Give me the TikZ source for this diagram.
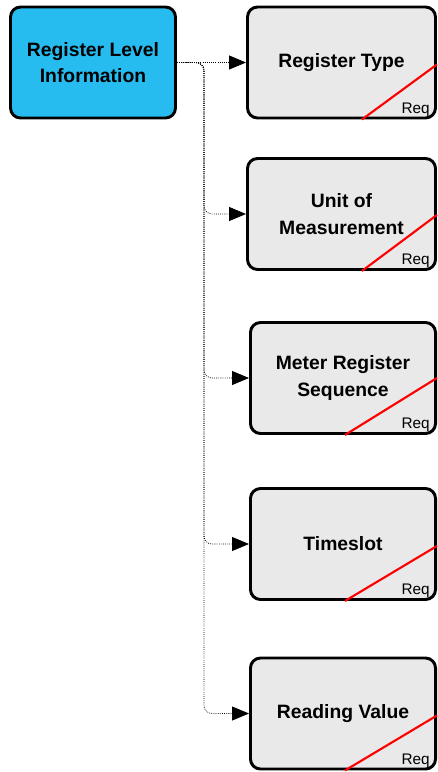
\documentclass[tikz,border=0pt]{standalone}
\usepackage{fontspec}
\setmainfont{Liberation Sans}
\usetikzlibrary{arrows.meta,calc}
\definecolor{parentblue}{RGB}{38,188,240}
\definecolor{childgray}{RGB}{233,233,233}
\definecolor{reqred}{RGB}{255,0,0}
\begin{document}
\begin{tikzpicture}[x=0.75pt,y=-0.75pt,
  parentbox/.style={draw=black, line width=2.2pt, rounded corners=7.5pt, fill=parentblue,
    minimum width=123.75pt, minimum height=83.25pt, align=center, inner sep=0pt,
    font=\bfseries\fontsize{14.5}{19.5}\selectfont},
  childbox/.style={draw=black, line width=2.2pt, rounded corners=7.5pt, fill=childgray,
    minimum height=83.25pt, align=center, inner sep=0pt,
    font=\bfseries\fontsize{14.5}{20}\selectfont},
  widebox/.style={childbox, minimum width=141pt},
  narrowbox/.style={childbox, minimum width=138.8pt},
  link/.style={densely dotted, line width=0.6pt, rounded corners=6pt,
    -{Triangle[length=12.75pt,width=10.5pt]}},
  reqline/.style={draw=reqred, line width=1.6pt},
  reqlabel/.style={anchor=base east, inner sep=0pt, font=\fontsize{11.5}{12}\selectfont}
]
\useasboundingbox (0,0) rectangle (437,772);

\node[parentbox] (p) at (93,62.5) {Register Level\\Information};

\node[widebox] (c1) at (341.5,62.5) {Register Type};
\node[widebox] (c2) at (341.5,214) {Unit of\\Measurement};
\node[narrowbox] (c3) at (343,378) {Meter Register\\Sequence};
\node[narrowbox] (c4) at (343,544) {Timeslot};
\node[narrowbox] (c5) at (343,713.5) {Reading Value};

\coordinate (trunk) at (204,62.5);

% Req markers
\draw[reqline] ($(c1.south east)+(-75,0)$) -- ($(c1.south east)+(0,-55)$);
\draw[reqline] ($(c2.south east)+(-75,0)$) -- ($(c2.south east)+(0,-56)$);
\draw[reqline] ($(c3.south east)+(-92,0)$) -- ($(c3.south east)+(0,-57)$);
\draw[reqline] ($(c4.south east)+(-92,0)$) -- ($(c4.south east)+(0,-55)$);
\draw[reqline] ($(c5.south east)+(-92,0)$) -- ($(c5.south east)+(0,-55)$);
\node[reqlabel] (r1) at ($(c1.south east)+(-7,-6)$) {Req};
\node[reqlabel] (r2) at ($(c2.south east)+(-7,-6)$) {Req};
\node[reqlabel] (r3) at ($(c3.south east)+(-7,-6)$) {Req};
\node[reqlabel] (r4) at ($(c4.south east)+(-7,-6)$) {Req};
\node[reqlabel] (r5) at ($(c5.south east)+(-7,-6)$) {Req};

% connectors
\draw[link] (p.east) -- (c1.west);
\draw[link] (p.east) -- (trunk) -- (trunk |- c2.west) -- (c2.west);
\draw[link] (p.east) -- (trunk) -- (trunk |- c3.west) -- (c3.west);
\draw[link] (p.east) -- (trunk) -- (trunk |- c4.west) -- (c4.west);
\draw[link] (p.east) -- (trunk) -- (trunk |- c5.west) -- (c5.west);
\end{tikzpicture}
\end{document}
